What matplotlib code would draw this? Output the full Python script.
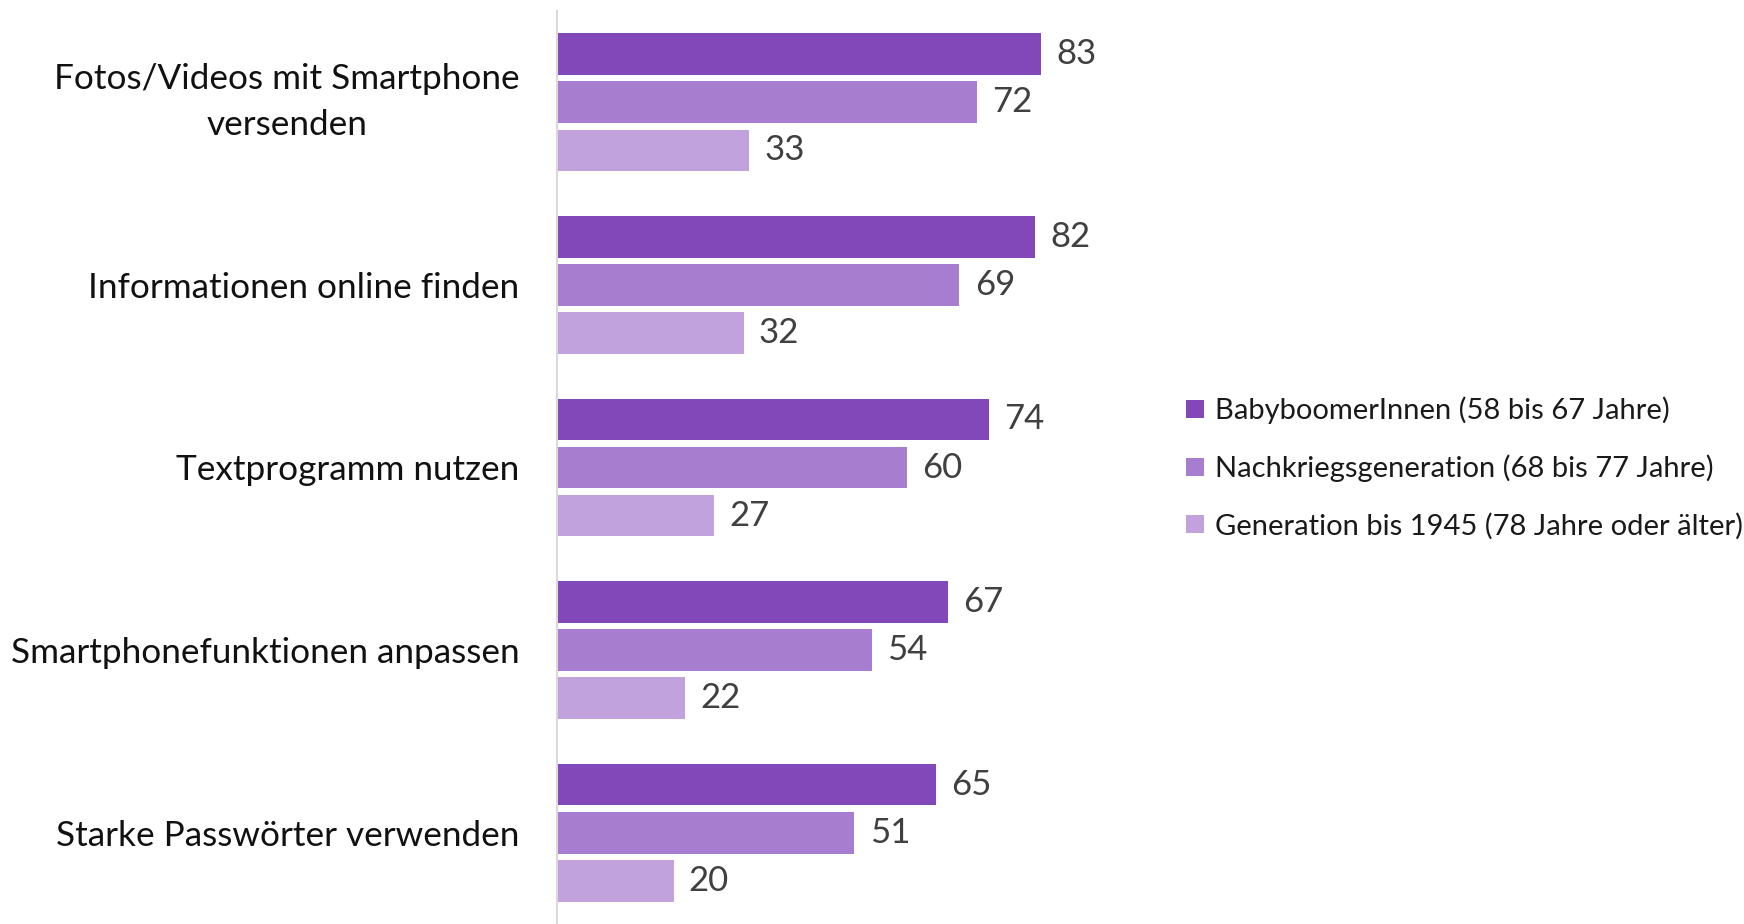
import matplotlib.pyplot as plt
import numpy as np

plt.rcParams['font.family'] = ['Lato', 'DejaVu Sans']

categories = ['Fotos/Videos mit Smartphone\nversenden',
              'Informationen online finden',
              'Textprogramm nutzen',
              'Smartphonefunktionen anpassen',
              'Starke Passwörter verwenden']
series = ['BabyboomerInnen (58 bis 67 Jahre)',
          'Nachkriegsgeneration (68 bis 77 Jahre)',
          'Generation bis 1945 (78 Jahre oder älter)']
boomer = [83, 82, 74, 67, 65]
nachkrieg = [72, 69, 60, 54, 51]
bis1945 = [33, 32, 27, 22, 20]
colors = ['#8247b8', '#a77ecf', '#c1a2dd']

fig = plt.figure(figsize=(17.44, 9.24), dpi=100)
ax = fig.add_axes([557 / 1744, 0, 1 - 557 / 1744, 913 / 924])

y = np.arange(len(categories))
pitch = 0.263
height = 0.228
for k, (vals, name) in enumerate(zip([boomer, nachkrieg, bis1945], series)):
    pos = y + (k - 1) * pitch
    ax.barh(pos, vals, height=height, color=colors[k], label=name)
    for p, v in zip(pos, vals):
        ax.text(v + 2.6, p, str(v), va='center', ha='left',
                fontsize=25, color='#404040')

ax.set_xlim(0, 203.5)
ax.set_ylim(len(categories) - 0.5, -0.5)
ax.set_yticks(y)
ax.set_yticklabels(categories, fontsize=25.3, color='#111111',
                   multialignment='center', linespacing=1.55)
ax.get_yticklabels()[0].set_va('center')
ax.tick_params(axis='y', length=0, pad=27)
ax.set_xticks([])
for s in ['top', 'right', 'bottom']:
    ax.spines[s].set_visible(False)
ax.spines['left'].set_color('#d9d9d9')
ax.spines['left'].set_linewidth(1.5)

fig.legend(loc='center left', bbox_to_anchor=(1186 / 1744, 1 - 468 / 924),
           frameon=False, fontsize=21, handlelength=0.6, handleheight=0.6,
           handletextpad=0.4, labelspacing=1.04, borderpad=0, borderaxespad=0,
           labelcolor='#1a1a1a')

fig.savefig('out.png', dpi=100)
